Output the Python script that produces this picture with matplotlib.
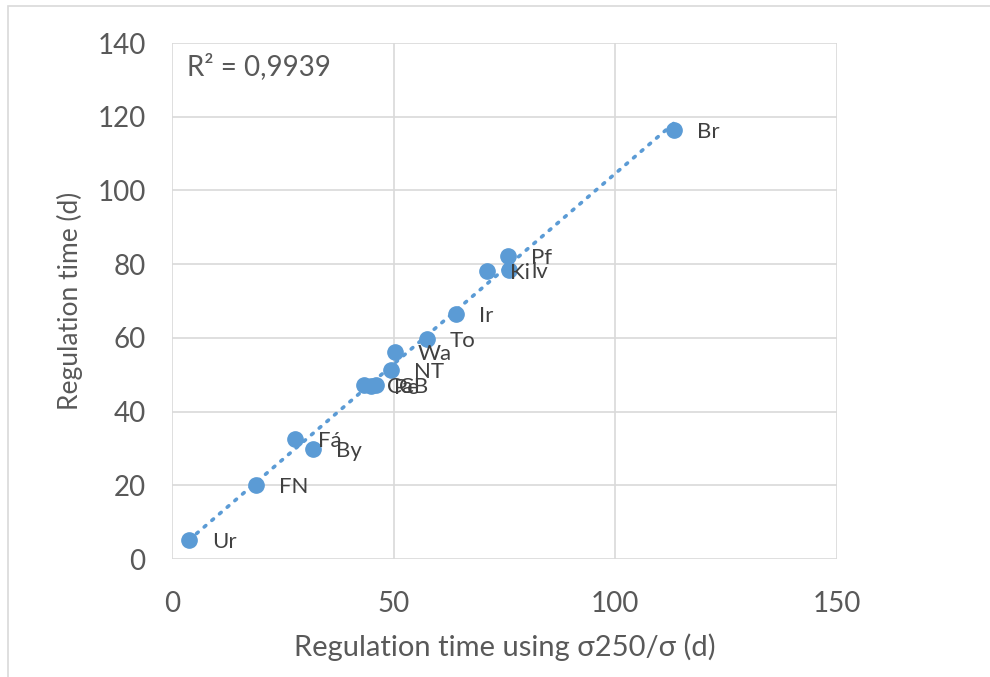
import numpy as np
import matplotlib.pyplot as plt
from matplotlib.patches import Rectangle

# regulation time data
labels = ['Ur', 'FN', 'Fá', 'By', 'Ca', 'Pe', 'CB', 'NT', 'Wa', 'To', 'Ir', 'Ki', 'Pf', 'lv', 'Br']
x_sigma = [3.8, 18.9, 27.7, 31.8, 43.3, 44.8, 46.0, 49.4, 50.3, 57.5, 64.1, 71.1, 75.8, 76.0, 113.2]
y_reg = [5.2, 20.1, 32.6, 29.8, 47.2, 47.0, 47.1, 51.3, 56.2, 59.7, 66.5, 78.1, 82.2, 78.4, 116.4]
r2_text = 'R² = 0,9939'

blue = '#5B9BD5'
grey = '#595959'
grid_c = '#D9D9D9'

plt.rcParams['font.family'] = ['Lato', 'DejaVu Sans']

fig = plt.figure(figsize=(9.9, 6.77), dpi=100)
ax = fig.add_axes([172 / 990, 1 - 559 / 677, (837 - 172) / 990, (559 - 43) / 677])

# outer chart border (Excel style)
fig.add_artist(Rectangle((8 / 990, -0.1), 1.2, 1.1 - 6 / 677, transform=fig.transFigure,
                         fill=False, edgecolor=grid_c, linewidth=1.2))

# linear trendline over data range
coef = np.polyfit(x_sigma, y_reg, 1)
xs = np.array([min(x_sigma), max(x_sigma)])
ax.plot(xs, np.polyval(coef, xs), linestyle=(0, (0.6, 2.2)), color=blue,
        linewidth=2.6, dash_capstyle='round', zorder=2)

ax.plot(x_sigma, y_reg, 'o', color=blue, markersize=11, zorder=3)

for lab, xv, yv in zip(labels, x_sigma, y_reg):
    ax.annotate(lab, (xv, yv), xytext=(16.5, -1.5), textcoords='offset points',
                ha='left', va='center', fontsize=16, color='#404040', zorder=4)

ax.text(0.022, 0.955, r2_text, transform=ax.transAxes, ha='left', va='center',
        fontsize=20, color=grey)

ax.set_xlim(0, 150)
ax.set_ylim(0, 140)
ax.set_xticks([0, 50, 100, 150])
ax.set_yticks(range(0, 141, 20))
ax.grid(True, color=grid_c, linewidth=1.2)
ax.set_axisbelow(True)
for s in ax.spines.values():
    s.set_visible(False)
ax.tick_params(length=0, labelsize=20, labelcolor=grey)
ax.tick_params(axis='y', pad=19)
ax.tick_params(axis='x', pad=23)

ax.set_xlabel('Regulation time using σ250/σ (d)', fontsize=21, color=grey, labelpad=12)
ax.set_ylabel('Regulation time (d)', fontsize=19, color=grey, labelpad=10)

fig.savefig('out.png', dpi=100)
